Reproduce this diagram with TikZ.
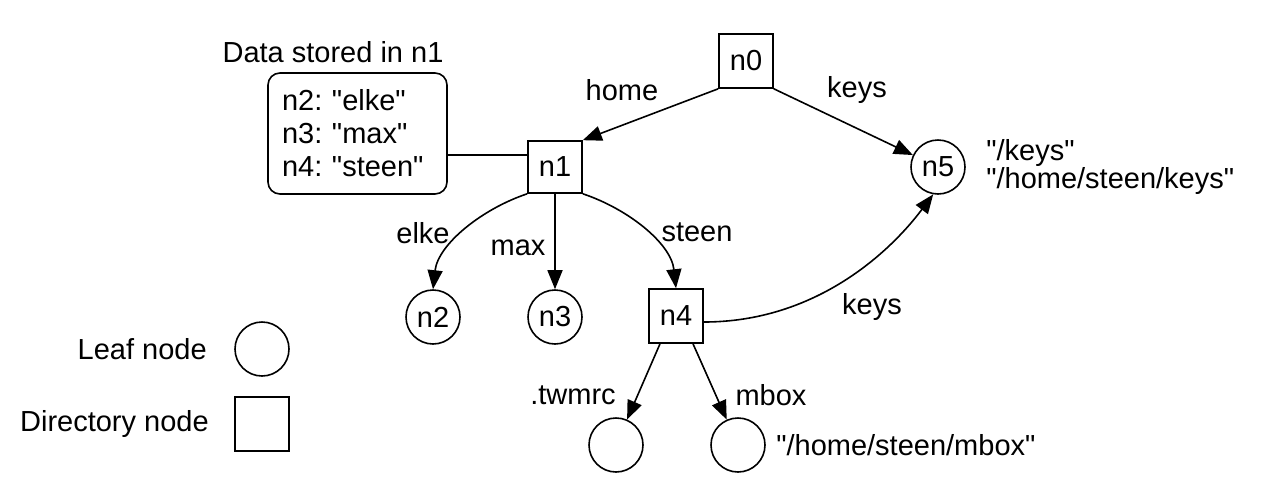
\documentclass[tikz,border=0pt]{standalone}
\usepackage{fontspec}
\newfontfamily\diagfont{Liberation Sans}
\frenchspacing
\usetikzlibrary{shapes,arrows.meta}
\tikzset{
  every picture/.style={font={\diagfont\fontsize{14.5}{16.5}\selectfont},
    >={Triangle[length=9.5pt,width=7.5pt]}}}

\begin{document}
\begin{tikzpicture}[x=0.5pt, y=-0.5pt, line width=0.8pt,
    dirNode/.style={
      draw, rectangle,
      minimum width=27pt,
      minimum height=27pt,
      inner sep=0pt},
    leafNode/.style={draw, circle, minimum size=27pt, inner sep=0pt},
    dataBox/.style={
      draw, rounded corners=6pt,
      align=left, text width=75.5pt,
      inner xsep=7pt,
      minimum height=60.5pt},
    edgeLabel/.style={inner sep=1pt}]

    \useasboundingbox (0,0) rectangle (1268,488);

    % the tree
    \node[dirNode] (n0) at (746, 61) {n0};
    \node[dirNode, minimum height=26pt] (n1) at (555, 167) {n1};
    \node[leafNode] (n2) at (433, 317) {n2};
    \node[leafNode] (n3) at (555, 317) {n3};
    \node[dirNode] (n4) at (676, 316) {n4};
    \node[leafNode] at (938, 167) [
           label={[name=n5Paths, align=left, label distance=6.5pt,
                   font={\diagfont\fontsize{14.5}{14}\selectfont}]0:"/keys"\\"/home/steen/keys"}]
    (n5) {n5};
    \node[leafNode] (twmrc) at (616, 445) {};
    \node[leafNode] at (738, 445) [
           label={[name=mboxPath, label distance=1.5pt]0:"/home/steen/mbox"}]
    (mbox) {};

    % data kept in n1
    \node[dataBox] (data) at (357.5, 133.5) {
      n2: "elke"\\
      n3: "max"\\
      n4: "steen"
    };
    \node (dataTitle) at (333, 52) {Data stored in n1};
    \coordinate (dataLink) at ([yshift=-10.75pt]data.east);
    \draw (dataLink) -- (dataLink -| n1.west);

    % edges
    \draw[->] (n0.south west) -- (n1.north east);
    \draw[->] (n0.south east) -- (n5);
    \draw[->] (n1.south west) .. controls +(-45, 15) and +(5, -45) .. (n2.north);
    \draw[->] (n1) -- (n3);
    \draw[->] (n1.south east) .. controls +(45, 15) and +(-5, -45) .. (n4.north);
    \draw[->] ([yshift=-3pt]n4.east) .. controls +(110, 0) and +(-45, 60) .. (n5.-100);
    \draw[->] ([xshift=-8pt]n4.south) -- (twmrc);
    \draw[->] ([xshift=8.5pt]n4.south) -- (mbox);

    \node[edgeLabel] (lHome) at (622, 90) {home};
    \node[edgeLabel] (lKeysTop) at (857, 90) {keys};
    \node[edgeLabel] (lElke) at (423, 233) {elke};
    \node[edgeLabel] (lMax) at (518, 248) {max};
    \node[edgeLabel] (lSteen) at (697, 232) {steen};
    \node[edgeLabel] (lKeysLow) at (872, 307) {keys};
    \node[edgeLabel] (lTwmrc) at (573, 395) {.twmrc};
    \node[edgeLabel] (lMbox) at (771, 395) {mbox};

    % legend
    \node[leafNode] at (262, 349) [
           label={[name=legLeafText, label distance=10pt]180:Leaf node}]
    (legLeaf) {};
    \node[dirNode] at (262, 424) [
           label={[name=legDirText, label distance=9pt]180:Directory node}]
    (legDir) {};
  \end{tikzpicture}
\end{document}
